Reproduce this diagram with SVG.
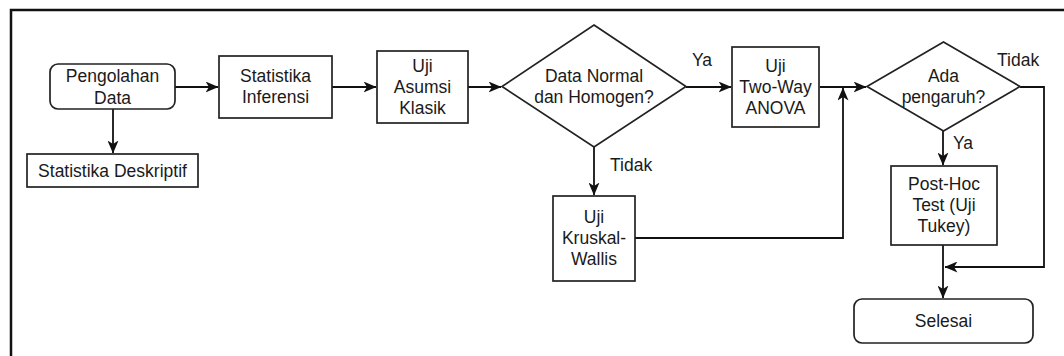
<svg xmlns="http://www.w3.org/2000/svg" width="1064" height="356" viewBox="0 0 1064 356">
  <style>
    .box { fill: #ffffff; stroke: #222222; stroke-width: 1.7; }
    .lbl { font-family: "Liberation Sans", Arial, Helvetica, sans-serif; font-size: 17.5px; fill: #1a1a1a; text-anchor: middle; }
    .edge { fill: none; stroke: #111111; stroke-width: 1.8; }
    .tag { font-family: "Liberation Sans", Arial, Helvetica, sans-serif; font-size: 17.5px; fill: #1a1a1a; }
  </style>
  <defs>
    <marker id="arrow" viewBox="0 0 13 11" refX="12.5" refY="5.5" markerWidth="13" markerHeight="11" markerUnits="userSpaceOnUse" orient="auto">
      <path d="M0,0 L13,5.5 L0,11 L3.5,5.5 Z" fill="#111111"/>
    </marker>
  </defs>
  <rect width="1064" height="356" fill="#ffffff"/>

  <!-- outer frame -->
  <path d="M11,360 V10 H1068" fill="none" stroke="#111111" stroke-width="2.5"/>

  <!-- connectors -->
  <g id="connectors">
    <path class="edge" d="M175,87 H218" marker-end="url(#arrow)"/>
    <path class="edge" d="M113,109 V153" marker-end="url(#arrow)"/>
    <path class="edge" d="M332,87 H376" marker-end="url(#arrow)"/>
    <path class="edge" d="M468,87 H501" marker-end="url(#arrow)"/>
    <path class="edge" d="M686,87 H731" marker-end="url(#arrow)"/>
    <path class="edge" d="M594,147 V195" marker-end="url(#arrow)"/>
    <path class="edge" d="M820,87 H866" marker-end="url(#arrow)"/>
    <path class="edge" d="M635,238 H843 V88" marker-end="url(#arrow)"/>
    <path class="edge" d="M943,131 V165" marker-end="url(#arrow)"/>
    <path class="edge" d="M1020,87 H1044 V267 H945" marker-end="url(#arrow)"/>
    <path class="edge" d="M943,245 V298" marker-end="url(#arrow)"/>
    <text class="tag" x="692" y="66">Ya</text>
    <text class="tag" x="610" y="171">Tidak</text>
    <text class="tag" x="997" y="66">Tidak</text>
    <text class="tag" x="953" y="149">Ya</text>
  </g>

  <g id="pengolahan-data">
    <rect class="box" x="50" y="64" width="125" height="45" rx="8"/>
    <text class="lbl" x="112.5" y="82">Pengolahan</text>
    <text class="lbl" x="112.5" y="104">Data</text>
  </g>

  <g id="statistika-deskriptif">
    <rect class="box" x="27" y="154" width="171" height="33"/>
    <text class="lbl" x="112.5" y="176.5">Statistika Deskriptif</text>
  </g>

  <g id="statistika-inferensi">
    <rect class="box" x="219" y="56" width="113" height="62"/>
    <text class="lbl" x="275.5" y="82">Statistika</text>
    <text class="lbl" x="275.5" y="103">Inferensi</text>
  </g>

  <g id="uji-asumsi-klasik">
    <rect class="box" x="377" y="51" width="91" height="72"/>
    <text class="lbl" x="422.5" y="72">Uji</text>
    <text class="lbl" x="422.5" y="93">Asumsi</text>
    <text class="lbl" x="422.5" y="114">Klasik</text>
  </g>

  <g id="data-normal">
    <polygon class="box" points="594,25 686,86.5 594,147 502,86.5"/>
    <text class="lbl" x="594" y="82">Data Normal</text>
    <text class="lbl" x="594" y="103">dan Homogen?</text>
  </g>

  <g id="uji-kruskal-wallis">
    <rect class="box" x="553" y="196" width="82" height="85"/>
    <text class="lbl" x="594" y="223">Uji</text>
    <text class="lbl" x="594" y="244">Kruskal-</text>
    <text class="lbl" x="594" y="265">Wallis</text>
  </g>

  <g id="uji-two-way-anova">
    <rect class="box" x="732" y="47" width="87" height="80"/>
    <text class="lbl" x="775.5" y="72">Uji</text>
    <text class="lbl" x="775.5" y="93">Two-Way</text>
    <text class="lbl" x="775.5" y="114">ANOVA</text>
  </g>

  <g id="ada-pengaruh">
    <polygon class="box" points="943.5,42 1020,86.5 943.5,131 867,86.5"/>
    <text class="lbl" x="943.5" y="82">Ada</text>
    <text class="lbl" x="943.5" y="103">pengaruh?</text>
  </g>

  <g id="post-hoc-test">
    <rect class="box" x="891" y="166" width="106" height="79"/>
    <text class="lbl" x="944" y="190">Post-Hoc</text>
    <text class="lbl" x="944" y="211">Test (Uji</text>
    <text class="lbl" x="944" y="232">Tukey)</text>
  </g>

  <g id="selesai">
    <rect class="box" x="854" y="299" width="179" height="44" rx="8"/>
    <text class="lbl" x="943.5" y="327">Selesai</text>
  </g>
</svg>
